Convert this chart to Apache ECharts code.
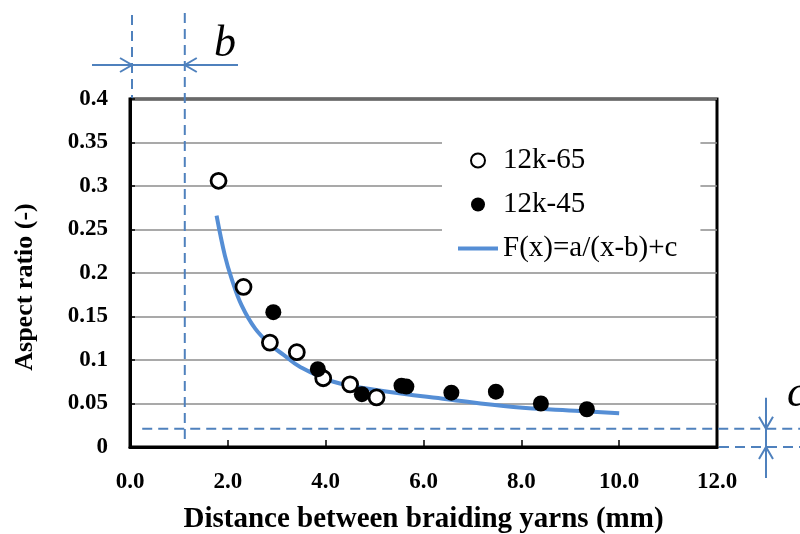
<!DOCTYPE html>
<html>
<head>
<meta charset="utf-8">
<script src="https://cdn.jsdelivr.net/npm/echarts@6/dist/echarts.min.js"></script>
<style>
	html,body{
		margin:0;
		padding:0;
		background:#fff;
	}
	#main{
		width:800px;
		height:534px;
	}
</style>
</head>
<body>
<div id="main"></div>
<script type="text/javascript">
// data
var xTickLabels = ['0.0','2.0','4.0','6.0','8.0','10.0','12.0'];
var yTickLabels = ['0','0.05','0.1','0.15','0.2','0.25','0.3','0.35','0.4'];

var open65 = [[1.81,0.306],[2.32,0.184],[2.86,0.120],[3.41,0.109],[3.95,0.079],[4.50,0.072],[5.04,0.057]];
var filled45 = [[2.93,0.155],[3.84,0.0895],[4.74,0.0607],[5.55,0.0705],[5.65,0.0695],[6.57,0.0625],[7.48,0.0636],[8.40,0.050],[9.34,0.0434]];
// fitted curve, points
var fitCurve = [[1.77,0.266],[1.94,0.220],[2.08,0.193],[2.28,0.163],[2.56,0.136],[2.90,0.116],[3.14,0.106],[3.48,0.092],[4.16,0.075],[5.1,0.065],[6.48,0.055],[7.84,0.046],[9.2,0.0415],[10.0,0.0388]];

// parameters marked on the chart
var bValue = 1.12;
var cValue = 0.021;

var serif = 'Liberation Serif';
var blue = '#4f81bd';
var myChart = echarts.init(document.getElementById('main'));

var option = {
	animation:false,
	backgroundColor:'#fff',
	grid:{
		left:130, right:83, top:99, bottom:87,
		outerBoundsMode:'none',
		containLabel:false,
		show:true,
		borderColor:'#000',
		borderWidth:3,
		backgroundColor:'transparent'
	},
	legend:{
		data:[
			{name:'12k-65'},
			{name:'12k-45'},
			{name:'F(x)=a/(x-b)+c', icon:'path://M0,0h40v4h-40z'}
		],
		orient:'vertical',
		left:442,
		top:118,
		padding:[28,23,8,16],
		backgroundColor:'#fff',
		itemWidth:40,
		itemHeight:14,
		itemGap:15,
		textStyle:{fontFamily:serif, fontSize:29, color:'#000'}
	},
	xAxis:{
		type:'value',
		min:0, max:12, interval:2,
		name:'Distance between braiding yarns (mm)',
		nameLocation:'middle',
		nameGap:58,
		nameTextStyle:{fontFamily:serif, fontSize:29, fontWeight:'bold', color:'#000'},
		axisLine:{lineStyle:{color:'#000', width:3}},
		axisTick:{inside:true, length:7, lineStyle:{color:'#000', width:1.5}},
		axisLabel:{
			margin:24,
			fontFamily:serif, fontSize:23, fontWeight:'bold', color:'#000',
			formatter:function(v){ return xTickLabels[Math.round(v/2)]; }
		},
		splitLine:{show:false}
	},
	yAxis:{
		type:'value',
		min:0, max:0.4, interval:0.05,
		name:'Aspect ratio (-)',
		nameLocation:'middle',
		nameGap:92,
		nameTextStyle:{fontFamily:serif, fontSize:26, fontWeight:'bold', color:'#000', padding:[0,28,0,0]},
		axisLine:{lineStyle:{color:'#000', width:3}},
		axisTick:{inside:true, length:5, lineStyle:{color:'#000', width:1.5}},
		axisLabel:{
			margin:22,
			fontFamily:serif, fontSize:23, fontWeight:'bold', color:'#000',
			formatter:function(v){ return yTickLabels[Math.round(v/0.05)]; }
		},
		splitLine:{lineStyle:{color:'#8c8c8c', width:1.5}}
	},
	series:[
		{
			name:'F(x)=a/(x-b)+c',
			type:'line',
			data:fitCurve,
			smooth:0.4,
			symbol:'none',
			lineStyle:{color:'#558ed5', width:4},
			itemStyle:{color:'#558ed5'},
			z:2
		},
		{
			name:'12k-65',
			type:'scatter',
			data:open65,
			symbol:'circle',
			symbolSize:15,
			itemStyle:{color:'#fff', borderColor:'#000', borderWidth:2.8, opacity:1},
			z:3
		},
		{
			name:'12k-45',
			type:'scatter',
			data:filled45,
			symbol:'circle',
			symbolSize:16,
			itemStyle:{color:'#000', opacity:1},
			z:3
		}
	]
};
myChart.setOption(option);

// annotation for b and c, placed through the chart's own scales
function px(x, y){
	return myChart.convertToPixel({gridIndex:0}, [x, y]);
}
var p0 = px(0, 0.4);
var pb = px(bValue, 0.4);
var pbLow = px(bValue, 0.008);
var pcStart = px(0.25, cValue);
var pRight = px(12, 0);
var pcRight = px(12, cValue);
var arrowY = 65;
var arrowX = 766;
var dash = {stroke:blue, lineWidth:2, lineDash:[10,6]};
var solid = {stroke:blue, lineWidth:2, fill:null};

var graphics = [
	{type:'line', shape:{x1:p0[0]+2, y1:15, x2:p0[0]+2, y2:p0[1]}, style:dash},
	{type:'line', shape:{x1:pb[0], y1:13, x2:pb[0], y2:pbLow[1]}, style:dash},
	{type:'line', shape:{x1:92, y1:arrowY, x2:238, y2:arrowY}, style:solid},
	{type:'polyline', shape:{points:[[p0[0]-10, arrowY-7],[p0[0]+2, arrowY],[p0[0]-10, arrowY+7]]}, style:solid},
	{type:'polyline', shape:{points:[[pb[0]+12, arrowY-7],[pb[0], arrowY],[pb[0]+12, arrowY+7]]}, style:solid},
	{type:'text', left:214, top:22, style:{text:'b', font:'italic 44px "Liberation Serif"', fill:'#000'}},
	{type:'line', shape:{x1:pcStart[0], y1:pcStart[1], x2:800, y2:pcStart[1]}, style:dash},
	{type:'line', shape:{x1:pRight[0]+2, y1:pRight[1], x2:800, y2:pRight[1]}, style:dash},
	{type:'line', shape:{x1:arrowX, y1:pcRight[1]-31, x2:arrowX, y2:pRight[1]+31}, style:solid},
	{type:'polyline', shape:{points:[[arrowX-7, pcRight[1]-12],[arrowX, pcRight[1]],[arrowX+7, pcRight[1]-12]]}, style:solid},
	{type:'polyline', shape:{points:[[arrowX-7, pRight[1]+12],[arrowX, pRight[1]],[arrowX+7, pRight[1]+12]]}, style:solid},
	{type:'text', left:787, top:372, style:{text:'c', font:'italic 44px "Liberation Serif"', fill:'#000'}}
];
myChart.setOption({graphic:graphics});
</script>
</body>
</html>
